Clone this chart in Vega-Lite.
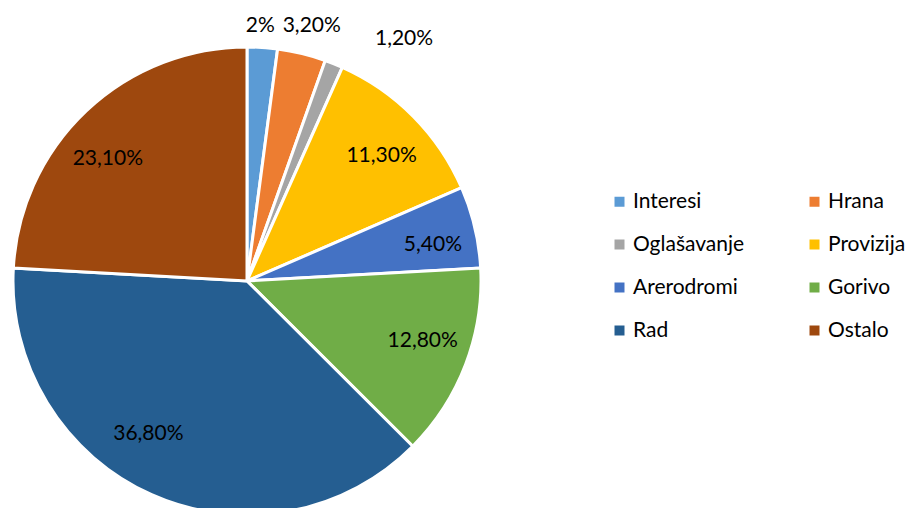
{
  "$schema": "https://vega.github.io/schema/vega-lite/v6.json",
  "width": 494,
  "height": 562,
  "autosize": {"type": "pad"},
  "padding": 0,
  "background": "white",
  "config": {"view": {"stroke": null}, "font": "Lato", "text": {"fontSize": 21, "color": "black"}},
  "data": {
    "values": [
      {"idx": 1, "category": "Interesi", "value": 2.0, "label": "2%"},
      {"idx": 2, "category": "Hrana", "value": 3.2, "label": "3,20%"},
      {"idx": 3, "category": "Oglašavanje", "value": 1.2, "label": "1,20%"},
      {"idx": 4, "category": "Provizija", "value": 11.3, "label": "11,30%"},
      {"idx": 5, "category": "Arerodromi", "value": 5.4, "label": "5,40%"},
      {"idx": 6, "category": "Gorivo", "value": 12.8, "label": "12,80%"},
      {"idx": 7, "category": "Rad", "value": 36.8, "label": "36,80%"},
      {"idx": 8, "category": "Ostalo", "value": 23.1, "label": "23,10%"}
    ]
  },
  "encoding": {
    "theta": {"field": "value", "type": "quantitative", "stack": true},
    "order": {"field": "idx", "type": "quantitative"}
  },
  "layer": [
    {
      "mark": {"type": "arc", "outerRadius": 234, "stroke": "white", "strokeWidth": 3},
      "encoding": {
        "color": {
          "field": "category",
          "type": "nominal",
          "scale": {
            "domain": ["Interesi", "Oglašavanje", "Arerodromi", "Rad", "Hrana", "Provizija", "Gorivo", "Ostalo"],
            "range": ["#5B9BD5", "#A5A5A5", "#4472C4", "#255E91", "#ED7D31", "#FFC000", "#70AD47", "#9E480E"]
          },
          "legend": {
            "title": null,
            "orient": "none",
            "legendX": 609,
            "legendY": 191,
            "columns": 2,
            "symbolType": "square",
            "symbolSize": 100,
            "symbolStrokeWidth": 0,
            "labelFontSize": 21,
            "labelFont": "Lato",
            "labelColor": "black",
            "labelOffset": 3,
            "columnPadding": 59,
            "rowPadding": 21,
            "labelLimit": 300
          }
        }
      }
    },
    {
      "mark": {"type": "text", "radius": 264, "dx": -4, "dy": 8},
      "encoding": {"text": {"condition": {"test": "datum.category != 'Interesi'", "value": ""}, "field": "label"}}
    },
    {
      "mark": {"type": "text", "radius": 264, "dx": 3, "dy": 2},
      "encoding": {"text": {"condition": {"test": "datum.category != 'Hrana'", "value": ""}, "field": "label"}}
    },
    {
      "mark": {"type": "text", "radius": 264, "dx": 59, "dy": 3},
      "encoding": {"text": {"condition": {"test": "datum.category != 'Oglašavanje'", "value": ""}, "field": "label"}}
    },
    {
      "mark": {"type": "text", "radius": 188, "dx": 1, "dy": 7},
      "encoding": {"text": {"condition": {"test": "datum.category != 'Provizija'", "value": ""}, "field": "label"}}
    },
    {
      "mark": {"type": "text", "radius": 188, "dx": 3, "dy": 7},
      "encoding": {"text": {"condition": {"test": "datum.category != 'Arerodromi'", "value": ""}, "field": "label"}}
    },
    {
      "mark": {"type": "text", "radius": 188, "dx": 0, "dy": -7},
      "encoding": {"text": {"condition": {"test": "datum.category != 'Gorivo'", "value": ""}, "field": "label"}}
    },
    {
      "mark": {"type": "text", "radius": 188, "dx": -22, "dy": -19},
      "encoding": {"text": {"condition": {"test": "datum.category != 'Rad'", "value": ""}, "field": "label"}}
    },
    {
      "mark": {"type": "text", "radius": 188, "dx": -10, "dy": 15},
      "encoding": {"text": {"condition": {"test": "datum.category != 'Ostalo'", "value": ""}, "field": "label"}}
    }
  ]
}
